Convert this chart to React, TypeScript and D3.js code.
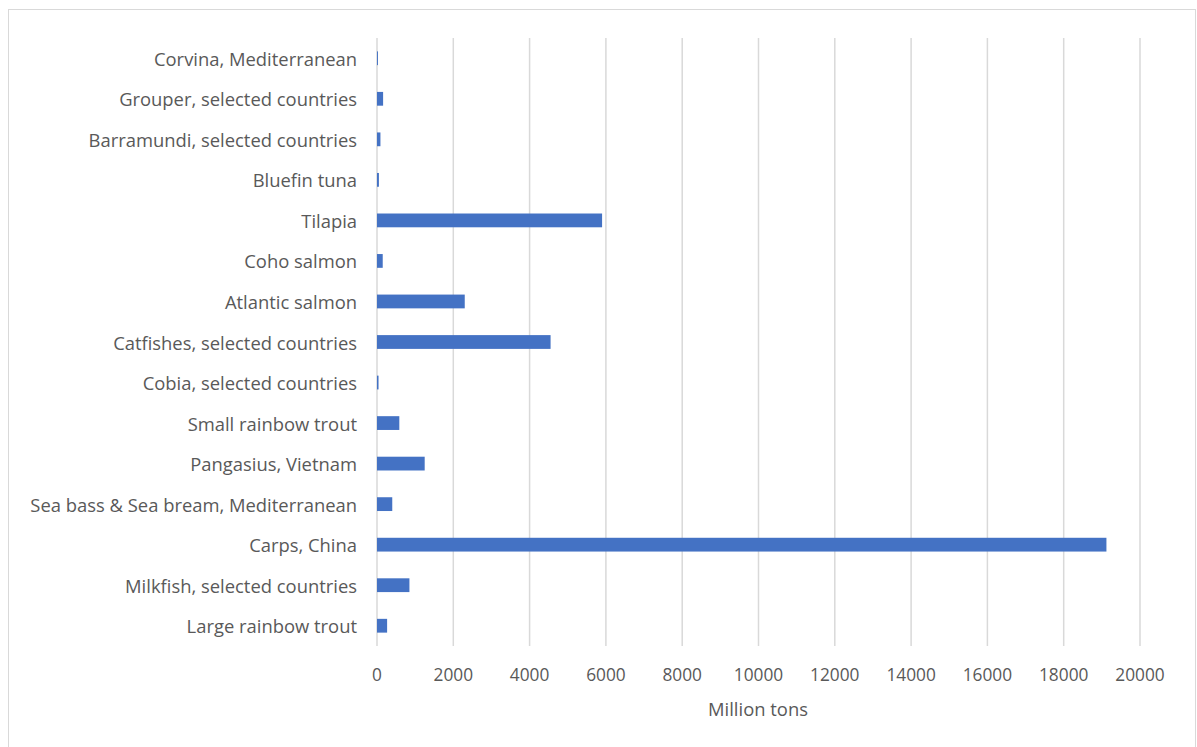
import React from "react";
import * as d3 from "d3";

const categories: string[] = [
  "Corvina, Mediterranean",
  "Grouper, selected countries",
  "Barramundi, selected countries",
  "Bluefin tuna",
  "Tilapia",
  "Coho salmon",
  "Atlantic salmon",
  "Catfishes, selected countries",
  "Cobia, selected countries",
  "Small rainbow trout",
  "Pangasius, Vietnam",
  "Sea bass & Sea bream, Mediterranean",
  "Carps, China",
  "Milkfish, selected countries",
  "Large rainbow trout",
];

const values: number[] = [
  25, 160, 90, 50, 5900, 150, 2300, 4550, 40, 585, 1250, 400, 19120, 850, 265,
];

const xTicks: number[] = [0, 2000, 4000, 6000, 8000, 10000, 12000, 14000, 16000, 18000, 20000];

const axisTitle = "Million tons";

const W = 1197;
const H = 747;
const FONT = "'Open Sans', Lato, sans-serif";

export default function App() {
  const left = 377;
  const right = 1140;
  const top = 38;
  const bottom = 646;

  const x = d3.scaleLinear().domain([0, 20000]).range([left, right]);
  const y = d3
    .scaleBand<string>()
    .domain(categories)
    .range([top, bottom])
    .paddingInner(0.66)
    .paddingOuter(0.33);

  return (
    <div style={{ position: "fixed", left: 0, top: 0, width: W, height: H, background: "#fff" }}>
      <svg width={W} height={H} style={{ display: "block" }}>
        <rect x={8.5} y={9.5} width={1187} height={740} fill="#fff" stroke="#d9d9d9" strokeWidth={1} />
        {xTicks.map((t) => (
          <line
            key={"g" + t}
            x1={x(t)}
            x2={x(t)}
            y1={top}
            y2={bottom}
            stroke="#d9d9d9"
            strokeWidth={1.5}
          />
        ))}
        {categories.map((c, i) => (
          <rect
            key={"b" + c}
            x={x(0)}
            y={y(c)!}
            width={Math.max(0, x(values[i]) - x(0))}
            height={y.bandwidth()}
            fill="#4472c4"
          />
        ))}
        {categories.map((c) => (
          <text
            key={"l" + c}
            x={357}
            y={y(c)! + y.bandwidth() / 2}
            textAnchor="end"
            dominantBaseline="central"
            fontFamily={FONT}
            fontSize={18.4}
            fill="#595959"
          >
            {c}
          </text>
        ))}
        {xTicks.map((t) => (
          <text
            key={"t" + t}
            x={x(t)}
            y={674}
            textAnchor="middle"
            dominantBaseline="central"
            fontFamily={FONT}
            fontSize={17.3}
            fill="#595959"
          >
            {t}
          </text>
        ))}
        <text
          x={758}
          y={708}
          textAnchor="middle"
          dominantBaseline="central"
          fontFamily={FONT}
          fontSize={18.4}
          fill="#595959"
        >
          {axisTitle}
        </text>
      </svg>
    </div>
  );
}
